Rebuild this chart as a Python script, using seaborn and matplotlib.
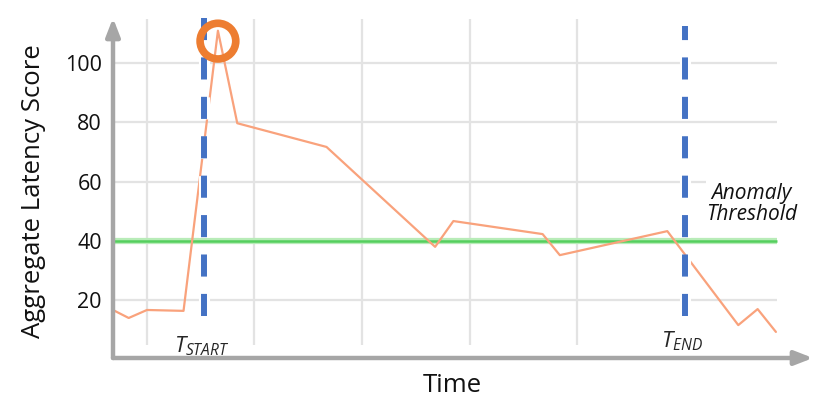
import matplotlib
matplotlib.use("Agg")
import matplotlib.pyplot as plt
import matplotlib.patheffects as pe
import seaborn as sns
import pandas as pd

# ----------------------------
# Data
# ----------------------------
time = [7.0, 8.3, 10.0, 13.4, 16.6, 18.4, 26.7, 36.8, 38.5, 46.8, 48.4, 58.4, 65.0, 66.8, 68.5]
score = [16.4, 14.0, 16.7, 16.4, 110.9, 79.7, 71.7, 38.0, 46.7, 42.3, 35.2, 43.3, 11.6, 17.0, 9.3]
threshold = 40
t_start = 15.3
t_end = 60.0
peak_time = 16.6
peak_score = 107.4
y_ticks = [20, 40, 60, 80, 100]
x_grid = [10, 20, 30, 40, 50]

df = pd.DataFrame({"Time": time, "Score": score})

sns.set_theme(style="white")
plt.rcParams["font.family"] = ["Open Sans", "DejaVu Sans"]
plt.rcParams["mathtext.fontset"] = "custom"
plt.rcParams["mathtext.it"] = "Open Sans:italic"
plt.rcParams["mathtext.rm"] = "Open Sans"

fig = plt.figure(figsize=(8.3, 4.13), dpi=100)
ax = fig.add_axes([113 / 830, 55 / 413, 700 / 830, 340 / 413])
ax.set_xlim(6.84, 71.95)
ax.set_ylim(0.5, 115.2)
for s in ax.spines.values():
    s.set_visible(False)

# grid
grid_c = "#e3e3e3"
for y in y_ticks:
    right = 62.0 if y == 60 else 68.6
    ax.hlines(y, 6.84, right, color=grid_c, lw=1.6, zorder=0)
ax.vlines(x_grid, 4.9, 114.8, color=grid_c, lw=1.6, zorder=0)

# threshold
ax.hlines(threshold, 6.84, 68.6, color="#b8ecb8", lw=4.5, zorder=1)
ax.hlines(threshold, 6.84, 68.6, color="#55cf5e", lw=1.8, zorder=1)

# latency line
sns.lineplot(data=df, x="Time", y="Score", ax=ax, color="#f9a27c", lw=1.6, zorder=2)

# start / end markers
white_edge = [pe.Stroke(linewidth=8, foreground="white"), pe.Normal()]
ax.vlines(t_start, 14.7, 115.2, color="#4472c4", lw=4.3, linestyles=[(0, (3.7, 2.9))],
          zorder=3, path_effects=white_edge)
ax.vlines(t_end, 14.7, 112.5, color="#4472c4", lw=4.3, linestyles=[(0, (3.7, 2.9))],
          zorder=3, path_effects=white_edge)

ax.scatter([peak_time], [peak_score], s=660, facecolor="none", edgecolor="#ed7d31",
           linewidth=5.5, zorder=4)

# axes with arrows
axis_c = "#a6a6a6"
ax.annotate("", xy=(71.95, 0.5), xytext=(6.84, 0.5), annotation_clip=False,
            arrowprops=dict(arrowstyle="-|>,head_length=0.9,head_width=0.35", color=axis_c, lw=3.2,
                            shrinkA=0, shrinkB=0))
ax.annotate("", xy=(6.84, 115.2), xytext=(6.84, 0.5), annotation_clip=False,
            arrowprops=dict(arrowstyle="-|>,head_length=0.9,head_width=0.35", color=axis_c, lw=3.2,
                            shrinkA=0, shrinkB=0))

ax.set_yticks(y_ticks)
ax.set_yticklabels([str(v) for v in y_ticks], fontsize=15.5)
ax.set_xticks([])
ax.tick_params(axis="y", length=0, pad=8, labelcolor="#111111")
ax.set_xlabel("")
ax.set_ylabel("")

fig.text(33 / 830, 1 - 191 / 413, "Aggregate Latency Score", rotation=90, ha="center", va="center",
         fontsize=18.5, color="#111111")
fig.text(452 / 830, 1 - 385 / 413, "Time", ha="center", va="center", fontsize=18.5, color="#111111")

ax.text(t_start - 0.2, 4.5, r"$T_{START}$", ha="center", va="center", fontsize=16)
ax.text(t_end - 0.2, 6.0, r"$T_{END}$", ha="center", va="center", fontsize=16)
ax.text(66.2, 52.5, "Anomaly\nThreshold", ha="center", va="center", fontsize=15,
        style="italic", linespacing=1.0, color="#111111")

fig.savefig("out.png", dpi=100)
plt.close(fig)
